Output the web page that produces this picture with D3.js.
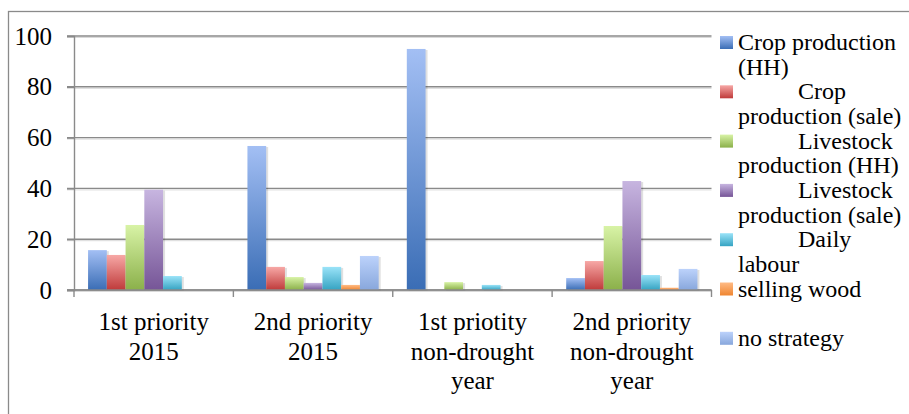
<!DOCTYPE html>
<html>
<head>
<meta charset="utf-8">
<script src="https://cdn.jsdelivr.net/npm/d3@7"></script>
</head>
<body style="margin:0; font-family: 'Times New Roman';">
<svg id="t" width="909" height="414" font-family="Times New Roman" style="font-family: 'Times New Roman'"></svg>
<script>
// categories on the x axis (line breaks as in the original)
const categories = ["1st priority\n2015", "2nd priority\n2015", "1st priotity\nnon-drought\nyear", "2nd priority\nnon-drought\nyear"];

const seriesNames = ["Crop production (HH)", "Crop production (sale)", "Livestock production (HH)",
  "Livestock production (sale)", "Daily labour", "selling wood", "no strategy"];

// values per series, one per category
const cropHH        = [15.7, 56.7, 94.9, 4.7];
const cropSale      = [13.8, 9.1, 0, 11.4];
const livestockHH   = [25.6, 5.1, 3.1, 25.2];
const livestockSale = [39.5, 2.8, 0, 42.9];
const dailyLabour   = [5.5, 9.1, 2.0, 5.9];
const sellingWood   = [0, 2.0, 0, 0.9];
const noStrategy    = [0, 13.4, 0, 8.3];

const yTicks = [0, 20, 40, 60, 80, 100];

// how the legend text wraps (indent = line pushed right)
const legendLines = [
  [{t: "Crop production", indent: false}, {t: "(HH)", indent: false}],
  [{t: "Crop", indent: true}, {t: "production (sale)", indent: false}],
  [{t: "Livestock", indent: true}, {t: "production (HH)", indent: false}],
  [{t: "Livestock", indent: true}, {t: "production (sale)", indent: false}],
  [{t: "Daily", indent: true}, {t: "labour", indent: false}],
  [{t: "selling wood", indent: false}],
  [{t: "no strategy", indent: false}]
];

// gradient stops: [top, bottom]
const gradColors = [
  ["#a3bff4", "#3a6db5"],
  ["#f7a8a6", "#bf3a3a"],
  ["#d8f3a6", "#8bb04a"],
  ["#c7b5e0", "#765597"],
  ["#9ae3f8", "#35a3c2"],
  ["#ffbb85", "#ef8530"],
  ["#bcd2fb", "#88a7dc"]
];

const values = [cropHH, cropSale, livestockHH, livestockSale, dailyLabour, sellingWood, noStrategy];

const svg = d3.select("#t");
const defs = svg.append("defs");

gradColors.forEach((c, i) => {
  const g = defs.append("linearGradient")
    .attr("id", "grad" + i)
    .attr("x1", 0).attr("y1", 0).attr("x2", 0).attr("y2", 1);
  g.append("stop").attr("offset", "0%").attr("stop-color", c[0]);
  g.append("stop").attr("offset", "100%").attr("stop-color", c[1]);
});

// outer frame (only top and left edges are visible)
svg.append("rect")
  .attr("x", 8.5).attr("y", 11.5).attr("width", 1000).attr("height", 1000)
  .attr("fill", "none").attr("stroke", "#8a8a8a").attr("stroke-width", 1.3);

const plotLeft = 74, plotRight = 711.5, plotTop = 36, plotBottom = 290;

const x = d3.scaleBand().domain(categories).range([plotLeft, plotRight]).padding(0);
const xs = d3.scaleBand().domain(d3.range(seriesNames.length))
  .range([0, x.bandwidth()]).paddingInner(0).paddingOuter(0.75);
const y = d3.scaleLinear().domain([0, 100]).range([plotBottom, plotTop]);

// gridlines
const grid = svg.append("g");
yTicks.forEach(t => {
  grid.append("line")
    .attr("x1", plotLeft - 7).attr("x2", plotRight)
    .attr("y1", y(t) + 1.5).attr("y2", y(t) + 1.5)
    .attr("stroke", "#d9d9d9").attr("stroke-width", 1);
  grid.append("line")
    .attr("x1", plotLeft - 7).attr("x2", plotRight)
    .attr("y1", y(t)).attr("y2", y(t))
    .attr("stroke", "#8a8a8a").attr("stroke-width", 1.4);
});

// y axis line and ticks
const yAxis = d3.axisLeft(y).tickValues(yTicks).tickSize(7).tickFormat("");
const yg = svg.append("g").attr("transform", `translate(${plotLeft},0)`).call(yAxis);
yg.attr("font-family", null);
yg.select(".domain").attr("stroke", "#8a8a8a").attr("stroke-width", 1.4);
yg.selectAll(".tick line").attr("stroke", "#8a8a8a").attr("stroke-width", 1.4);
yg.selectAll(".tick text").remove();

// bars, with a soft offset shadow drawn behind
const groups = svg.append("g").selectAll("g")
  .data(categories)
  .join("g")
  .attr("transform", d => `translate(${x(d)},0)`);

const barData = (d, ci) => values.map((v, si) => ({si, v: v[ci]})).filter(d => d.v > 0);

groups.selectAll("rect.sh")
  .data(barData)
  .join("rect")
  .attr("class", "sh")
  .attr("x", d => xs(d.si) + 2)
  .attr("width", xs.bandwidth())
  .attr("y", d => y(d.v) + 1)
  .attr("height", d => y(0) - y(d.v))
  .attr("fill", "#000").attr("opacity", 0.12);

groups.selectAll("rect.bar")
  .data(barData)
  .join("rect")
  .attr("class", "bar")
  .attr("x", d => xs(d.si))
  .attr("width", xs.bandwidth())
  .attr("y", d => y(d.v))
  .attr("height", d => y(0) - y(d.v))
  .attr("fill", d => `url(#grad${d.si})`);

// x axis line and category ticks
svg.append("line")
  .attr("x1", plotLeft - 7).attr("x2", plotRight)
  .attr("y1", plotBottom).attr("y2", plotBottom)
  .attr("stroke", "#8a8a8a").attr("stroke-width", 1.4);
const tickXs = categories.map(c => x(c)).concat([plotRight]);
tickXs.forEach(tx => {
  svg.append("line")
    .attr("x1", tx).attr("x2", tx)
    .attr("y1", plotBottom).attr("y2", plotBottom + 7)
    .attr("stroke", "#8a8a8a").attr("stroke-width", 1.4);
});

// legend swatches
const legendX = 720, legendTop = 36, legendStep = 49.3;
seriesNames.forEach((name, i) => {
  svg.append("rect")
    .attr("x", legendX).attr("y", legendTop + i * legendStep)
    .attr("width", 13).attr("height", 13)
    .attr("fill", `url(#grad${i})`);
});

// texts
function addText(str, tx, ty, size, anchor) {
  svg.append("text")
    .attr("x", tx).attr("y", ty)
    .attr("text-anchor", anchor)
    .style("font-family", '"Times New Roman"')
    .style("font-size", size + "px")
    .text(str);
}

yTicks.forEach(t => addText(d3.format("d")(t), 52, y(t) + 8.5, 25, "end"));

categories.forEach(c => {
  c.split("\n").forEach((ln, i) => {
    addText(ln, x(c) + x.bandwidth() / 2, 330 + i * 29.5, 25, "middle");
  });
});

seriesNames.forEach((name, i) => {
  const ly = legendTop + i * legendStep;
  legendLines[i].forEach((ln, j) => {
    addText(ln.t, ln.indent ? legendX + 78 : legendX + 18, ly + 14 + j * 24.7, 24, "start");
  });
});
</script>
</body>
</html>
